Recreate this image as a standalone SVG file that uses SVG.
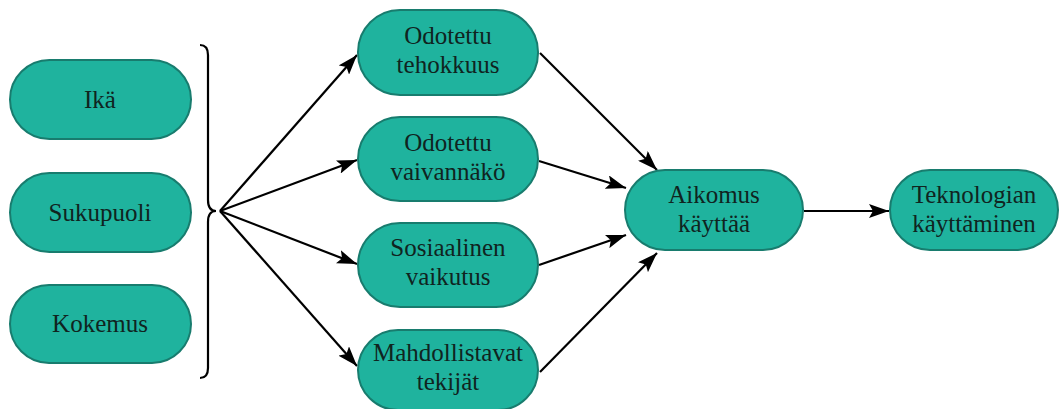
<svg xmlns="http://www.w3.org/2000/svg" width="1062" height="409" viewBox="0 0 1062 409">
<defs>
<style>
.n{fill:#1fb39e;stroke:#187c6e;stroke-width:2}
.t{font-family:"Liberation Serif",serif;font-size:25px;fill:#10241f;text-anchor:middle}
</style>
<marker id="ah2" viewBox="0 0 20 14" refX="20" refY="7" markerWidth="20" markerHeight="14" markerUnits="userSpaceOnUse" orient="auto"><path d="M0,0 L20,7 L0,14 L4,7 z" fill="#000"/></marker>
</defs>
<rect width="1062" height="409" fill="#fff"/>
<g id="connectors">
<path d="M200,45 Q208,45 208,55 L208,200 Q208,211 216,211 Q208,211 208,222 L208,368 Q208,378 200,378" stroke="#000" stroke-width="2.2" fill="none"/>
<g stroke="#000" stroke-width="2.2" fill="none" marker-end="url(#ah2)">
<line x1="220" y1="211" x2="357" y2="55"/>
<line x1="220" y1="211" x2="357" y2="160"/>
<line x1="220" y1="211" x2="357" y2="264"/>
<line x1="220" y1="211" x2="357" y2="366"/>
<line x1="540" y1="53" x2="657" y2="170"/>
<line x1="539" y1="161" x2="626" y2="188"/>
<line x1="539" y1="265" x2="626" y2="235"/>
<line x1="540" y1="372" x2="657" y2="253"/>
<line x1="804" y1="211" x2="889" y2="211"/>
</g>
</g>
<g id="n-ika"><rect class="n" x="10" y="60" width="181" height="79" rx="39.5"/><text class="t" x="100" y="108">Ikä</text></g>
<g id="n-sukupuoli"><rect class="n" x="10" y="173" width="181" height="79" rx="39.5"/><text class="t" x="100" y="221">Sukupuoli</text></g>
<g id="n-kokemus"><rect class="n" x="10" y="285" width="181" height="78" rx="39"/><text class="t" x="100" y="332">Kokemus</text></g>
<g id="n-teho"><rect class="n" x="358" y="10" width="180" height="85" rx="42"/><text class="t" x="448" y="44">Odotettu</text><text class="t" x="448" y="73">tehokkuus</text></g>
<g id="n-vaiva"><rect class="n" x="358" y="117" width="180" height="84" rx="42"/><text class="t" x="448" y="151">Odotettu</text><text class="t" x="448" y="180">vaivannäkö</text></g>
<g id="n-sos"><rect class="n" x="358" y="223" width="180" height="84" rx="42"/><text class="t" x="448" y="256">Sosiaalinen</text><text class="t" x="448" y="285">vaikutus</text></g>
<g id="n-mahd"><rect class="n" x="358" y="330" width="180" height="80" rx="40"/><text class="t" x="448" y="361">Mahdollistavat</text><text class="t" x="448" y="390">tekijät</text></g>
<g id="n-aikomus"><rect class="n" x="625" y="170" width="178" height="80" rx="40"/><text class="t" x="714" y="203">Aikomus</text><text class="t" x="714" y="232">käyttää</text></g>
<g id="n-tekno"><rect class="n" x="890" y="170" width="168" height="80" rx="40"/><text class="t" x="974" y="203">Teknologian</text><text class="t" x="974" y="232">käyttäminen</text></g>
</svg>
